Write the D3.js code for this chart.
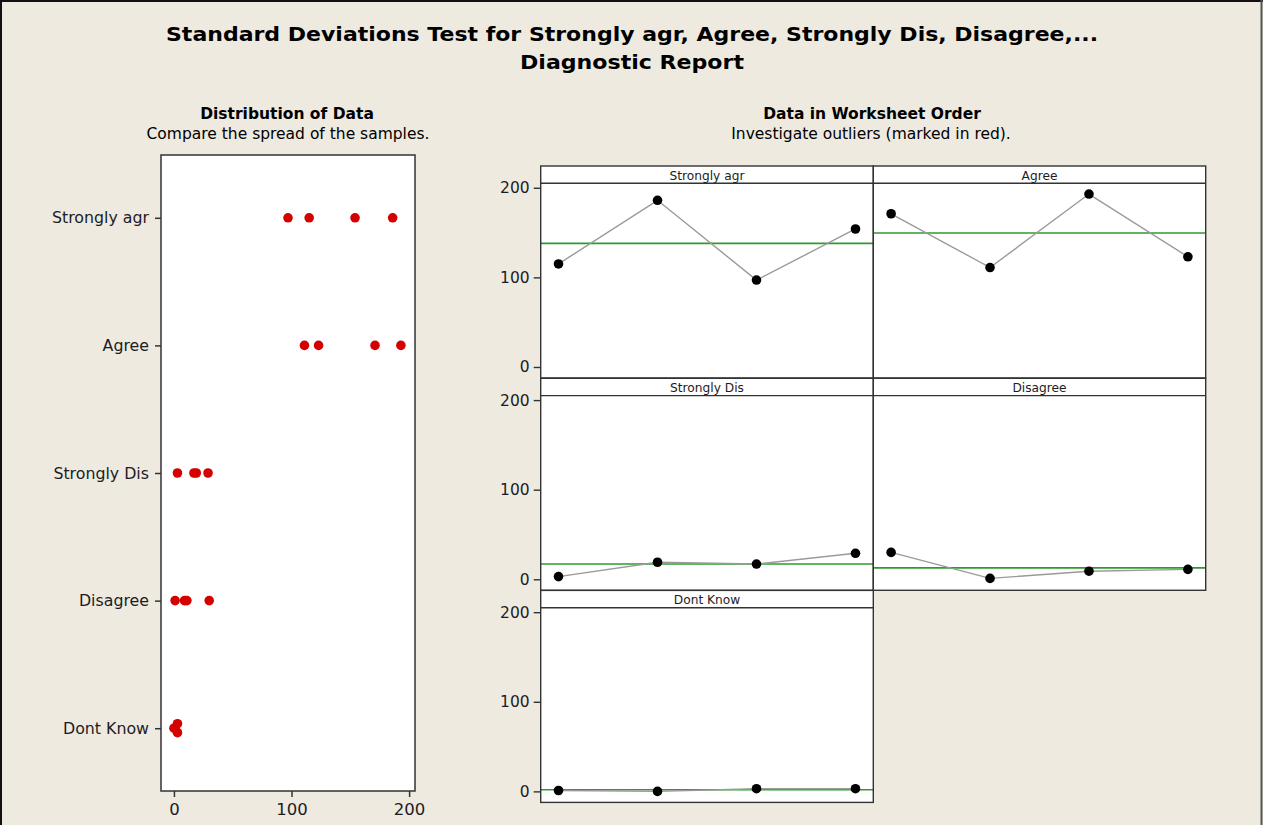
<!DOCTYPE html>
<html>
<head>
<meta charset="utf-8">
<script src="https://cdn.jsdelivr.net/npm/d3@7"></script>
<style>
  html, body { margin: 0; padding: 0; background: #EEEAE0; }
  svg { display: block; }
  text { font-family: "DejaVu Sans", "Liberation Sans", sans-serif; fill: #1c1c24; }
</style>
</head>
<body>
<svg id="chart" width="1263" height="825"></svg>
<script>
// ---------------- data ----------------
const titleLines = ["Standard Deviations Test for Strongly agr, Agree, Strongly Dis, Disagree,...", "Diagnostic Report"];
const categories = ["Strongly agr", "Agree", "Strongly Dis", "Disagree", "Dont Know"];
const stronglyAgr = [115, 186, 97, 154];
const agree = [171, 111, 193, 123];
const stronglyDis = [3, 19, 17, 29];
const disagree = [30, 1, 9, 11];
const dontKnow = [1, 0, 3, 3];
const seriesValues = [stronglyAgr, agree, stronglyDis, disagree, dontKnow];
const xTicksLeft = [0, 100, 200];
const yTicksRight = [0, 100, 200];
const obsIndex = [1, 2, 3, 4];

// ---------------- drawing ----------------
const svg = d3.select("#chart");
const W = 1263, H = 825;

svg.append("rect").attr("width", W).attr("height", H).attr("fill", "#EEEAE0");
// outer border (top, left, right)
svg.append("line").attr("x1", 0).attr("x2", W).attr("y1", 1).attr("y2", 1).attr("stroke", "#111").attr("stroke-width", 2);
svg.append("line").attr("x1", 1).attr("x2", 1).attr("y1", 0).attr("y2", H).attr("stroke", "#111").attr("stroke-width", 2);
svg.append("line").attr("x1", W - 1.5).attr("x2", W - 1.5).attr("y1", 0).attr("y2", H).attr("stroke", "#555").attr("stroke-width", 2);

// title
const titleWidths = [932, 224];
svg.selectAll("text.title").data(titleLines).join("text")
  .attr("class", "title")
  .attr("x", 632).attr("y", (d, i) => 41 + i * 28)
  .attr("text-anchor", "middle")
  .attr("textLength", (d, i) => titleWidths[i])
  .attr("lengthAdjust", "spacingAndGlyphs")
  .style("font-family", "'DejaVu Sans', sans-serif")
  .style("font-weight", "bold").style("font-size", "20px")
  .style("fill", "#000")
  .text(d => d);

// ---- left panel: Distribution of Data ----
svg.append("text").attr("x", 287).attr("y", 119).attr("text-anchor", "middle")
  .style("font-weight", "bold").style("font-size", "15.5px").style("fill", "#000")
  .text("Distribution of Data");
svg.append("text").attr("x", 288).attr("y", 139).attr("text-anchor", "middle")
  .style("font-size", "15.5px").style("fill", "#000")
  .text("Compare the spread of the samples.");

const L = { x0: 161, x1: 415, y0: 155, y1: 791 };
const xL = d3.scaleLinear().domain([-11, 205]).range([L.x0, L.x1]);
const yL = d3.scalePoint().domain(categories).range([L.y0, L.y1]).padding(0.492);

svg.append("rect").attr("x", L.x0).attr("y", L.y0).attr("width", L.x1 - L.x0).attr("height", L.y1 - L.y0)
  .attr("fill", "#fff").attr("stroke", "#333").attr("stroke-width", 1.5);

const gxL = svg.append("g").attr("transform", `translate(0,${L.y1})`)
  .call(d3.axisBottom(xL).tickValues(xTicksLeft).tickSize(6).tickSizeOuter(0));
gxL.select(".domain").remove();
gxL.selectAll(".tick line").attr("stroke", "#333").attr("stroke-width", 1.5);
gxL.selectAll(".tick text").style("font-size", "16.5px").attr("dy", "0.9em").attr("fill", "#1c1c24");

const gyL = svg.append("g").attr("transform", `translate(${L.x0},0)`)
  .call(d3.axisLeft(yL).tickSize(6).tickSizeOuter(0).tickPadding(6));
gyL.select(".domain").remove();
gyL.selectAll(".tick line").attr("stroke", "#333").attr("stroke-width", 1.5);
gyL.selectAll(".tick text").style("font-size", "15.8px").attr("fill", "#1c1c24");

// dots, stacking identical values vertically
categories.forEach((cat, ci) => {
  const vals = seriesValues[ci];
  const counts = {};
  vals.forEach(v => counts[v] = (counts[v] || 0) + 1);
  const seen = {};
  const pts = vals.map(v => {
    const k = seen[v] || 0; seen[v] = k + 1;
    const n = counts[v];
    const off = (k - (n - 1) / 2) * 9;
    return { v, off };
  });
  svg.append("g").selectAll("circle").data(pts).join("circle")
    .attr("cx", d => xL(d.v)).attr("cy", d => yL(cat) + d.off)
    .attr("r", 4.8).attr("fill", "#D50000");
});

// ---- right panel: Data in Worksheet Order ----
svg.append("text").attr("x", 872).attr("y", 119).attr("text-anchor", "middle")
  .style("font-weight", "bold").style("font-size", "15.5px").style("fill", "#000")
  .text("Data in Worksheet Order");
svg.append("text").attr("x", 871).attr("y", 139).attr("text-anchor", "middle")
  .style("font-size", "15.5px").style("fill", "#000")
  .text("Investigate outliers (marked in red).");

const colX = [540.7, 873.3, 1205.7];
const rowY = [166, 378.3, 590.4];
const panelH = 212;
const stripH = 17.3;

categories.forEach((cat, ci) => {
  const col = ci % 2, row = Math.floor(ci / 2);
  const px0 = colX[col], px1 = colX[col + 1];
  const top = rowY[row], stripB = top + stripH, bottom = top + panelH;
  const x = d3.scaleLinear().domain([0.82, 4.18]).range([px0, px1]);
  const y = d3.scaleLinear().domain([-12.3, 205]).range([bottom, stripB]);
  const g = svg.append("g");
  g.append("rect").attr("x", px0).attr("y", top).attr("width", px1 - px0).attr("height", panelH)
    .attr("fill", "#fff");
  // strip
  g.append("text").attr("x", (px0 + px1) / 2).attr("y", top + 13.5).attr("text-anchor", "middle")
    .style("font-size", "12.2px").style("fill", "#1c1c24").text(cat);

  const vals = seriesValues[ci];
  const mean = d3.mean(vals);
  g.append("line").attr("x1", px0).attr("x2", px1).attr("y1", y(mean)).attr("y2", y(mean))
    .attr("stroke", "#2E9A2E").attr("stroke-width", 1.6);
  const line = d3.line().x((d, i) => x(obsIndex[i])).y(d => y(d));
  g.append("path").datum(vals).attr("d", line).attr("fill", "none")
    .attr("stroke", "#9a9a9a").attr("stroke-width", 1.4);
  g.selectAll("circle").data(vals).join("circle")
    .attr("cx", (d, i) => x(obsIndex[i])).attr("cy", d => y(d)).attr("r", 4.8).attr("fill", "#000");

  g.append("rect").attr("x", px0).attr("y", top).attr("width", px1 - px0).attr("height", panelH)
    .attr("fill", "none").attr("stroke", "#333").attr("stroke-width", 1.4);
  g.append("line").attr("x1", px0).attr("x2", px1).attr("y1", stripB).attr("y2", stripB)
    .attr("stroke", "#333").attr("stroke-width", 1.4);

  if (col === 0) {
    const ga = svg.append("g").attr("transform", `translate(${px0},0)`)
      .call(d3.axisLeft(y).tickValues(yTicksRight).tickSize(7).tickSizeOuter(0).tickPadding(4));
    ga.select(".domain").remove();
    ga.selectAll(".tick line").attr("stroke", "#333").attr("stroke-width", 1.4);
    ga.selectAll(".tick text").style("font-size", "15.5px").attr("fill", "#1c1c24");
  }
});
</script>
</body>
</html>
